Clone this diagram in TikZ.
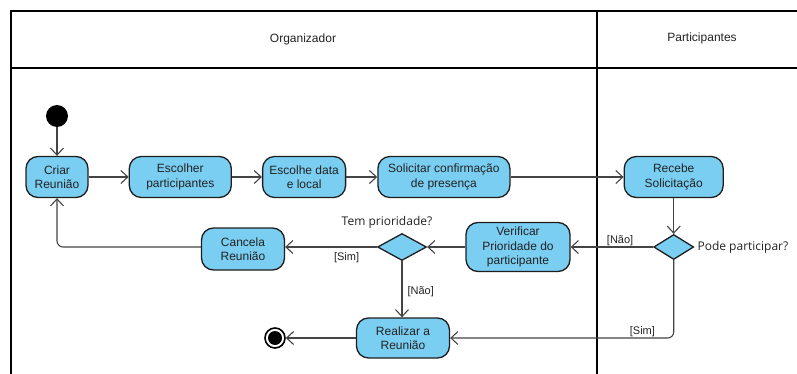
\documentclass[tikz,border=0pt]{standalone}
\usepackage{fontspec}
\setmainfont{Liberation Sans}
\newfontfamily\askfont{Open Sans}
\usetikzlibrary{arrows.meta,positioning,shapes.geometric}
\definecolor{Act}{HTML}{7ACEF2}
\definecolor{Edge}{HTML}{1E1E1E}
\definecolor{Wire}{HTML}{444444}
\definecolor{Ink}{HTML}{222222}

\begin{document}
\begin{tikzpicture}[x=1pt,y=-1pt,
          node distance=30pt,
          act/.style={draw=Edge,fill=Act,rounded corners=12pt,line width=1.3pt,
            minimum height=41pt,inner sep=2pt,align=center,text=Ink,
            font=\fontsize{12}{14.5}\selectfont},
          dec/.style={diamond,draw=Edge,fill=Act,line width=1.3pt,inner sep=0pt},
          flow/.style={-{Straight Barb[length=7pt,width=13pt,line width=1.1pt]},
            draw=Wire,line width=1.1pt,rounded corners=6pt},
          guard/.style={font=\fontsize{11}{13}\selectfont,text=Ink,inner sep=1pt},
          ask/.style={font=\askfont\fontsize{12}{14}\selectfont,text=Ink,inner sep=1pt},
          lane/.style={draw=black,line width=2pt}]
        \useasboundingbox (0,0) rectangle (797,374);
        % swimlanes
        \draw[lane] (11,374) -- (11,11) -- (797,11);
        \draw[lane] (11,68) -- (797,68);
        \draw[lane] (597,11) -- (597,374);
        \node[text=Ink,font=\fontsize{12}{14}\selectfont] (orgtitle) at (303,39) {Organizador};
        \node[text=Ink,font=\fontsize{12}{14}\selectfont] (parttitle) at (702,38) {Participantes};
        % activities
        \node[circle,fill=black,minimum size=22pt,inner sep=0pt] (inicio) at (57,116) {};
        \node[act,minimum width=62pt] (criar) at (57,177) {Criar\\Reunião};
        \node[act,minimum width=102pt,right=40pt of criar] (escolher) {Escolher\\participantes};
        \node[act,minimum width=83pt,right=of escolher] (data) {Escolhe data\\e local};
        \node[act,minimum width=132pt,right=31pt of data] (solicitar) {Solicitar confirmação\\de presença};
        \node[act,minimum width=99pt,right=113pt of solicitar] (recebe) {Recebe\\Solicitação};
        \node[dec,minimum width=40pt,minimum height=25pt] (pode) at (recebe |- 0,247) {};
        \node[ask,right=2pt of pode.east] (qpode) {Pode participar?};
        \node[act,minimum width=104pt,minimum height=49pt] (verificar) at (518,247) {Verificar\\Prioridade do\\participante};
        \node[dec,minimum width=49pt,minimum height=27pt] (prior) at (402,247) {};
        \node[ask] (qprior) at (387,222) {Tem prioridade?};
        \node[act,minimum width=83pt,minimum height=42pt] (cancela) at (243,249) {Cancela\\Reunião};
        \node[act,minimum width=93pt,minimum height=40pt] (realizar) at (403,338) {Realizar a\\Reunião};
        \node[circle,draw=black,line width=1.6pt,fill=white,minimum size=20pt,inner sep=0pt] (fim) at (275,338) {};
        \fill[black] (fim.center) circle[radius=7pt];
        % flows
        \draw[flow] (inicio) -- (criar);
        \draw[flow] (criar) -- (escolher);
        \draw[flow] (escolher) -- (data);
        \draw[flow] (data) -- (solicitar);
        \draw[flow] (solicitar) -- (recebe);
        \draw[flow] (recebe) -- (pode);
        \draw[flow] (pode) -- node[guard,above,pos=0.4] {[Não]} (verificar);
        \draw[flow] (pode.south) |- node[guard,above,pos=0.57] {[Sim]} (realizar.east);
        \draw[flow] (verificar) -- (prior);
        \draw[flow] (prior.west) -- node[guard,below=4pt,pos=0.33] {[Sim]} (prior.west -| cancela.east);
        \draw[flow] (prior.south) -- node[guard,right=4pt,pos=0.55] {[Não]} (prior.south |- realizar.north);
        \draw[flow] (prior -| cancela.west) -| (criar.south);
        \draw[flow] (realizar) -- (fim);
      \end{tikzpicture}
\end{document}
